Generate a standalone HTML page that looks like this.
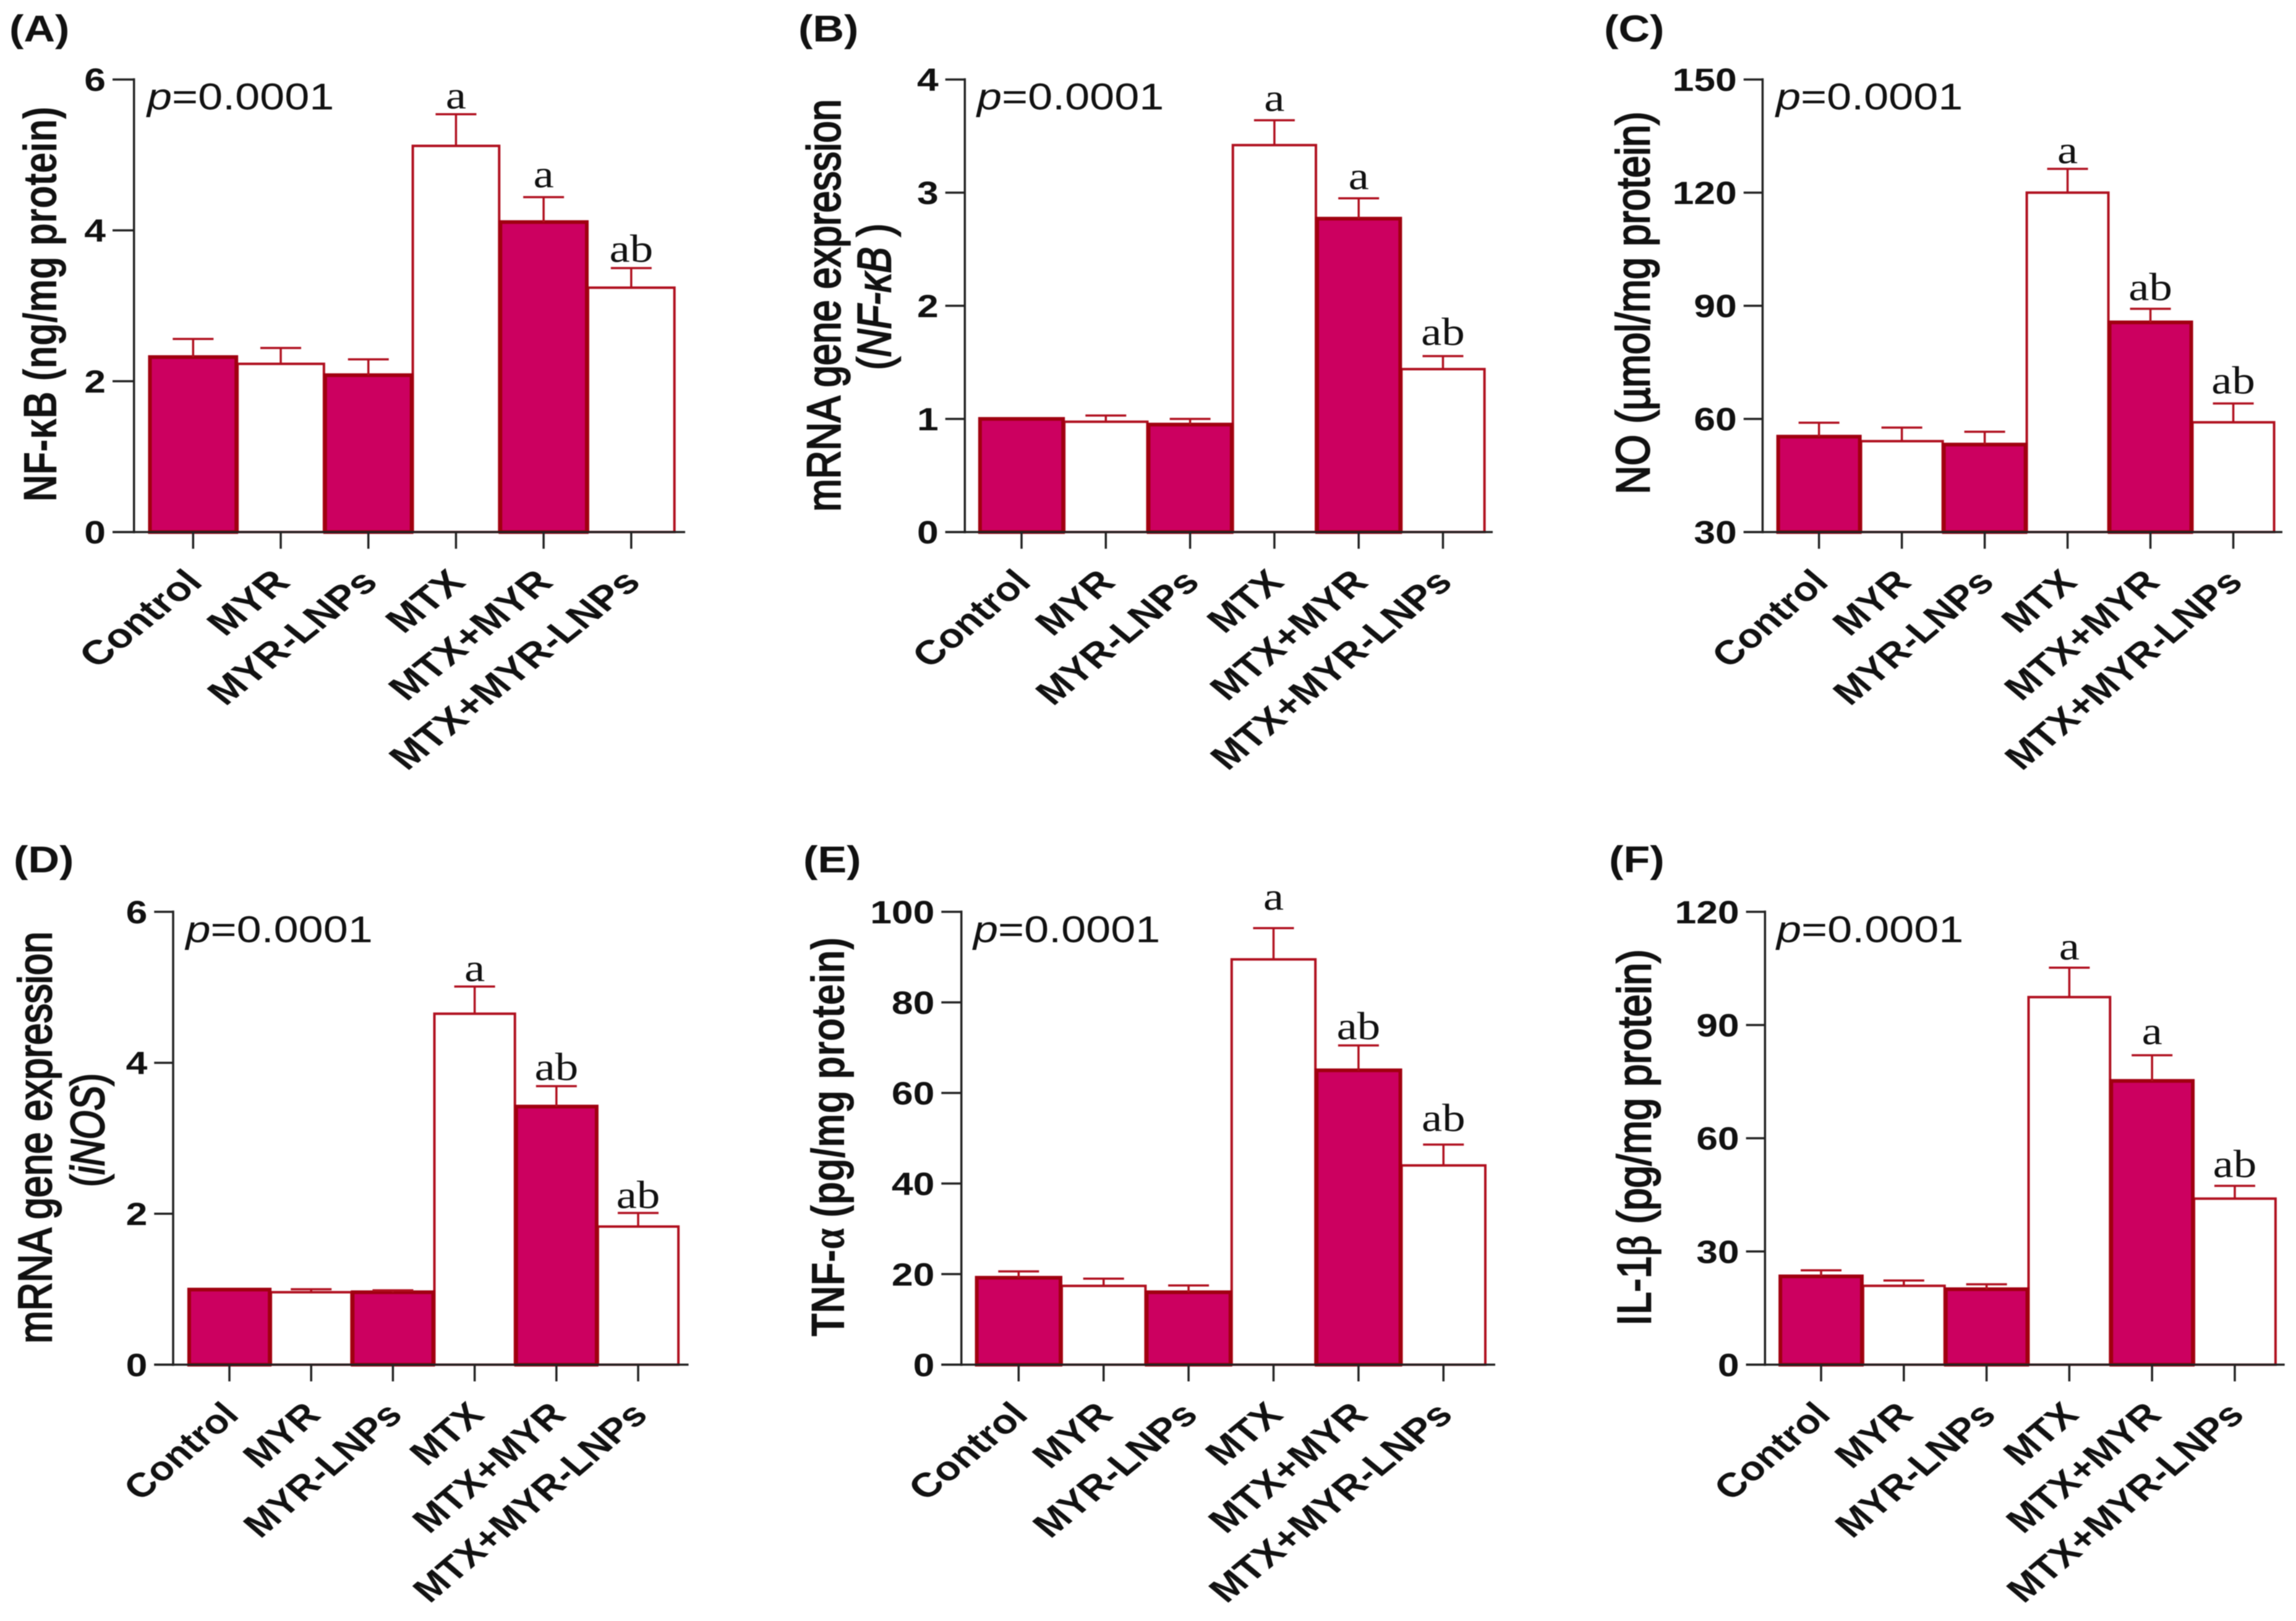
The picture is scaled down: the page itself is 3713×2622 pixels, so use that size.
<!DOCTYPE html>
<html lang="en">
<head>
<meta charset="utf-8">
<title>Inflammatory markers bar charts</title>
<style>
html,body{margin:0;padding:0;background:#fff;}
body{width:3713px;height:2622px;overflow:hidden;}
svg{display:block;filter:blur(0.9px);}
text{font-family:"Liberation Sans",sans-serif;fill:#111;}
</style>
</head>
<body>
<svg id="figure" xmlns="http://www.w3.org/2000/svg" width="3713" height="2622" viewBox="0 0 3713 2622"></svg>
<script>
const groups = ["Control","MYR","MYR-LNPs","MTX","MTX+MYR","MTX+MYR-LNPs"];
const filledGroups = [true,false,true,false,true,false];

const valuesA = [2.32,2.23,2.08,5.12,4.11,3.24];
const errorsA = [0.24,0.21,0.21,0.42,0.33,0.26];
const lettersA = ["","","","a","a","ab"];
const ticksA = [0,2,4,6];

const valuesB = [1,0.975,0.95,3.42,2.77,1.44];
const errorsB = [0,0.055,0.05,0.22,0.18,0.115];
const lettersB = ["","","","a","a","ab"];
const ticksB = [0,1,2,3,4];

const valuesC = [55.3,54.1,53.2,120,85.6,59.1];
const errorsC = [3.7,3.6,3.4,6.3,3.6,5];
const lettersC = ["","","","a","ab","ab"];
const ticksC = [30,60,90,120,150];

const valuesD = [0.995,0.96,0.96,4.65,3.42,1.83];
const errorsD = [0,0.04,0.025,0.36,0.27,0.18];
const lettersD = ["","","","a","ab","ab"];
const ticksD = [0,2,4,6];

const valuesE = [19.2,17.4,16,89.5,65,44];
const errorsE = [1.4,1.6,1.5,6.9,5.5,4.6];
const lettersE = ["","","","a","ab","ab"];
const ticksE = [0,20,40,60,80,100];

const valuesF = [23.4,20.9,20,97.4,75.2,44];
const errorsF = [1.6,1.4,1.3,7.8,6.8,3.4];
const lettersF = ["","","","a","a","ab"];
const ticksF = [0,30,60,90,120];

const pValue = "=0.0001";

const panels = [
  {id:"a",label:"(A)",labelX:15,labelY:67,axisX:216.7,left:182,right:1108,top:128.6,base:860.6,first:312.3,step:141.7,values:valuesA,errors:errorsA,letters:lettersA,ticks:ticksA,pX:238,pY:177,letterGap:[9,9,9,9,16,10],
   titles:[{x:91,cy:492,len:639,weight:"bold",stroke:0,segs:[["NF-κB (ng/mg protein)",""]]}]},
  {id:"b",label:"(B)",labelX:1291,labelY:67,axisX:1560.3,left:1528.7,right:2414,top:128.6,base:860.6,first:1652,step:136.3,values:valuesB,errors:errorsB,letters:lettersB,ticks:ticksB,pX:1580,pY:177,letterGap:[9,9,9,15,15,18],
   titles:[{x:1358.6,cy:494,len:667,weight:"normal",stroke:2,segs:[["mRNA gene expression",""]]},{x:1440,cy:480,len:237,weight:"normal",stroke:2,segs:[["(",""],["NF-κB ","i"],[")",""]]}]},
  {id:"c",label:"(C)",labelX:2594,labelY:67,axisX:2850.4,left:2819.7,right:3691,top:128.6,base:860.6,first:2941.6,step:134,values:valuesC,errors:errorsC,letters:lettersC,ticks:ticksC,pX:2872,pY:177,letterGap:[9,9,9,9,14,16],
   titles:[{x:2667,cy:490,len:619,weight:"normal",stroke:2,segs:[["NO (µmol/mg protein)",""]]}]},
  {id:"d",label:"(D)",labelX:22,labelY:1411,axisX:280,left:249.3,right:1113.5,top:1474.9,base:2207.4,first:371,step:132.2,values:valuesD,errors:errorsD,letters:lettersD,ticks:ticksD,pX:300.5,pY:1524,letterGap:[9,9,9,9,10,8],
   titles:[{x:83,cy:1840,len:666,weight:"normal",stroke:2,segs:[["mRNA gene expression",""]]},{x:168,cy:1828,len:184,weight:"normal",stroke:2,segs:[["(",""],["iNOS","i"],[")",""]]}]},
  {id:"e",label:"(E)",labelX:1299,labelY:1411,axisX:1554.7,left:1522.3,right:2418,top:1474.9,base:2207.4,first:1647.3,step:137.4,values:valuesE,errors:errorsE,letters:lettersE,ticks:ticksE,pX:1574,pY:1524,letterGap:[9,9,9,30,10,22],
   titles:[{x:1365,cy:1839,len:646,weight:"bold",stroke:0,segs:[["TNF-",""],["α","s"],[" (pg/mg protein)",""]]}]},
  {id:"f",label:"(F)",labelX:2602,labelY:1411,axisX:2854.3,left:2823.6,right:3694.7,top:1474.9,base:2207.4,first:2945,step:133.8,values:valuesF,errors:errorsF,letters:lettersF,ticks:ticksF,pX:2873,pY:1524,letterGap:[9,9,9,13,18,14],
   titles:[{x:2669,cy:1840,len:609,weight:"normal",stroke:2,segs:[["IL-1",""],["β","s"],["  (pg/mg protein)",""]]}]}
];

const NS = "http://www.w3.org/2000/svg";
const root = document.getElementById("figure");

function mk(parent, tag, attrs, text) {
  const n = document.createElementNS(NS, tag);
  for (const k in attrs) n.setAttribute(k, attrs[k]);
  if (text !== undefined) n.textContent = text;
  parent.appendChild(n);
  return n;
}

function drawPanel(p) {
  const g = mk(root, "g", {});
  
  

  const yMin = p.ticks[0];
  const yMax = p.ticks[p.ticks.length - 1];
  const yScale = v => p.base - (v - yMin) / (yMax - yMin) * (p.base - p.top);
  const xScale = i => p.first + i * p.step;
  const labelStretch = p.step / 113;
  const barW = p.step - 2;

  const lab = mk(g, "text", {transform:"translate(" + p.labelX + "," + p.labelY + ") scale(1.17,1)","font-size":60,"font-weight":"bold"}, p.label);
  
  

  const pt = mk(g, "text", {transform:"translate(" + p.pX + "," + p.pY + ") scale(1.2,1)","font-size":60});
  
  
  mk(pt, "tspan", {"font-style":"italic"}, "p");
  mk(pt, "tspan", {}, pValue);

  p.titles.forEach(t => {
    const tt = mk(g, "text", {
      transform:"translate(" + t.x + "," + t.cy + ") scale(1.27,1) rotate(-90)",
      "text-anchor":"middle","font-size":60,"font-weight":t.weight,
      textLength:t.len,lengthAdjust:"spacingAndGlyphs",
      stroke:"#111","stroke-width":t.stroke
    });
    
    
    t.segs.forEach(s => {
      const a = {};
      if (s[1] === "i") { a["font-style"] = "italic"; }
      if (s[1] === "s") { a["font-family"] = "Liberation Serif"; }
      const sp = mk(tt, "tspan", a, s[0]);
      sp.setAttribute('xml:space', 'preserve');
    });
  });

  [false, true].forEach(pass => {
    groups.forEach((name, i) => {
      if (filledGroups[i] !== pass) return;
      const cx = xScale(i);
      const yTop = yScale(p.values[i]);
      const bar = mk(g, "rect", {
        x:cx - barW / 2, y:yTop, width:barW, height:p.base - yTop,
        fill:pass ? "#cc0060" : "#ffffff",
        stroke:pass ? "#a00010" : "#b0101f",
        "stroke-width":pass ? 6 : 4
      });
      
      
    });
  });

  groups.forEach((name, i) => {
    const cx = xScale(i);
    const yTop = yScale(p.values[i]);
    const yErr = yScale(p.values[i] + p.errors[i]);
    if (p.errors[i] > 0) {
      const stem = mk(g, "line", {x1:cx,x2:cx,y1:yTop,y2:yErr,stroke:"#b0101f","stroke-width":3.5});
      
      
      const cap = mk(g, "line", {x1:cx - 33,x2:cx + 33,y1:yErr,y2:yErr,stroke:"#b0101f","stroke-width":3.5});
      
      
    }

    if (p.letters[i]) {
      const sig = mk(g, "text", {
        transform:"translate(" + cx + "," + (yErr - p.letterGap[i]) + ") scale(1.17,1)",
        "text-anchor":"middle","font-size":64,
        style:"font-family:'Liberation Serif',serif"
      }, p.letters[i]);
      
      
    }

    const tick = mk(g, "line", {x1:cx,x2:cx,y1:p.base,y2:p.base + 27,stroke:"#222","stroke-width":3.5});
    
    

    const xl = mk(g, "text", {
      transform:"translate(" + (cx + 18) + "," + (p.base + 84) + ") scale(" + labelStretch + ",1) rotate(-45)",
      "text-anchor":"end","font-size":55,"font-weight":"bold"
    }, name);
    
    
  });

  p.ticks.forEach(v => {
    const y = yScale(v);
    const yt = mk(g, "line", {x1:p.left,x2:p.axisX,y1:y,y2:y,stroke:"#222","stroke-width":3.5});
    
    
    const yl = mk(g, "text", {
      transform:"translate(" + (p.left - 11) + "," + (y + 18.5) + ") scale(1.2,1)",
      "text-anchor":"end","font-size":52,"font-weight":"bold"
    }, String(v));
    
    
  });

  const ya = mk(g, "line", {x1:p.axisX,x2:p.axisX,y1:p.top - 2,y2:p.base + 2,stroke:"#222","stroke-width":3.5});
  
  
  const xa = mk(g, "line", {x1:p.left,x2:p.right,y1:p.base,y2:p.base,stroke:"#222","stroke-width":3.5});
  
  
}

panels.forEach(drawPanel);
</script>
</body>
</html>
